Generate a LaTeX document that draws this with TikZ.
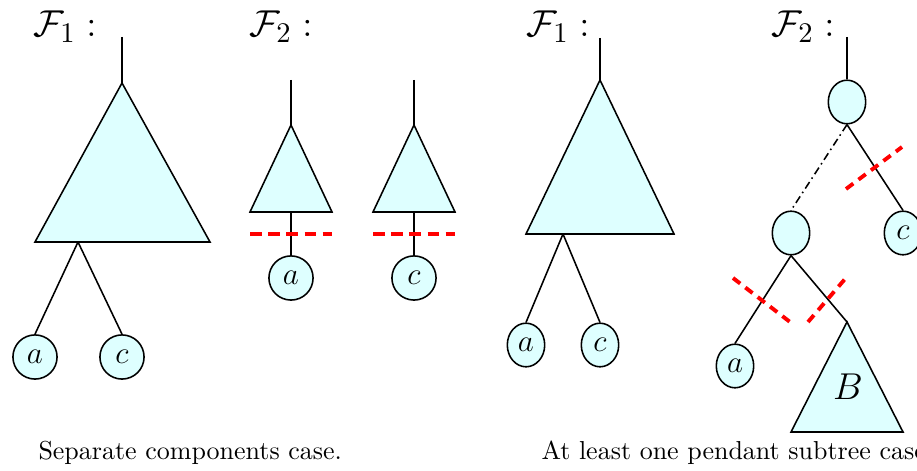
\documentclass[tikz,border=0pt]{standalone}
\usepackage{amsmath}
\usepackage{amssymb}
\usetikzlibrary{shapes.geometric}
\definecolor{treeCyan}{RGB}{222,255,255}
\definecolor{cutRed}{RGB}{255,0,0}

\begin{document}
\begin{tikzpicture}[
    x=0.385pt,
    y=-0.385pt,
    edge/.style={
        black,
        line width=0.6pt
    },
    subtree/.style={
        fill=treeCyan,
        draw=black,
        line width=0.6pt
    },
    leaf/.style={
        circle,
        draw,
        fill=treeCyan,
        line width=0.6pt,
        minimum size=17pt,
        inner sep=0pt,
        font=\large
    },
    slimleaf/.style={
        ellipse,
        draw,
        fill=treeCyan,
        line width=0.6pt,
        minimum width=14.4pt,
        minimum height=16.8pt,
        inner sep=0pt,
        font=\large
    },
    cut/.style={
        cutRed,
        line width=1.5pt,
        dash pattern=on 4.5pt off 2.5pt
    },
    slantcut/.style={
        cut,
        dash pattern=on 3.5pt off 2.5pt
    },
    forestlabel/.style={
        font=\fontsize{15.2}{18}\selectfont,
        anchor=base west,
        inner sep=0pt
    },
    caption/.style={
        anchor=base west,
        inner sep=0pt
    }
]

\useasboundingbox (0,0) rectangle (917,471);

%------------------------------------------------
% Separate components case: F1
%------------------------------------------------
\node[forestlabel] (FoneL) at (33,37) {$\mathcal{F}_1:$};

\coordinate (rootL) at (122,37);
\coordinate (topL) at (122,83);
\coordinate (forkL) at (78,242);

\draw[subtree] (topL) -- (210,242) -- (35,242) -- cycle;
\draw[edge] (rootL) -- (topL);

\node[leaf] (aL) at (35,357) {$a$};
\node[leaf] (cL) at (122,357) {$c$};

\draw[edge] (forkL) -- (aL.north);
\draw[edge] (forkL) -- (cL.north);

%------------------------------------------------
% Separate components case: F2 (two components)
%------------------------------------------------
\node[forestlabel] (FtwoL) at (249,37) {$\mathcal{F}_2:$};

\foreach \x/\lab in {291/a,414/c}{
    \coordinate (root\lab) at (\x,80);
    \coordinate (top\lab) at (\x,125);
    \coordinate (base\lab) at (\x,212);
    \draw[edge] (root\lab) -- (top\lab);
    \draw[subtree] (top\lab) -- (\x+41,212) -- (\x-41,212) -- cycle;
    \node[leaf] (leaf\lab) at (\x,278) {$\lab$};
    \draw[edge] (base\lab) -- (leaf\lab.north);
    % cut edge
    \draw[cut] (\x-41,234) -- (\x+41,234);
}

\node[caption] (capL) at (38,460) {Separate components case.};

%------------------------------------------------
% Pendant subtree case: F1
%------------------------------------------------
\node[forestlabel] (FoneR) at (526,37) {$\mathcal{F}_1:$};

\coordinate (rootR) at (600,38);
\coordinate (topR) at (600,80);
\coordinate (forkR) at (563,234);

\draw[subtree] (topR) -- (674,234) -- (526,234) -- cycle;
\draw[edge] (rootR) -- (topR);

\node[slimleaf] (aR) at (526,345) {$a$};
\node[slimleaf] (cR) at (600,345) {$c$};

\draw[edge] (forkR) -- (aR.north);
\draw[edge] (forkR) -- (cR.north);

%------------------------------------------------
% Pendant subtree case: F2
%------------------------------------------------
\node[forestlabel] (FtwoR) at (771,37) {$\mathcal{F}_2:$};

\coordinate (rootT) at (847,37);
\node[slimleaf] (top) at (847,102) {};
\node[slimleaf] (mid) at (791,233) {};
\node[slimleaf] (cT) at (903,233) {$c$};
\node[slimleaf] (aT) at (735,366) {$a$};

\draw[edge] (rootT) -- (top.north);
\draw[edge, dash pattern=on 3pt off 1.5pt on 0.6pt off 1.5pt]
    (top.south) -- (mid.north);
\draw[edge] (top.south) -- (cT.north);
\draw[edge] (mid.south) -- (aT.north);

% pendant subtree B
\coordinate (topB) at (847,322);
\draw[subtree] (topB) -- (903,432) -- (791,432) -- cycle;
\node[font=\Large] (B) at (848,387) {$B$};
\draw[edge] (mid.south) -- (topB);

% cut edges
\draw[slantcut] (846,189) -- (902,147);
\draw[slantcut] (733,278) -- (790,322);
\draw[slantcut] (808,322) -- (845,279);

\node[caption] (capR) at (541,460) {At least one pendant subtree case.};

\end{tikzpicture}
\end{document}
